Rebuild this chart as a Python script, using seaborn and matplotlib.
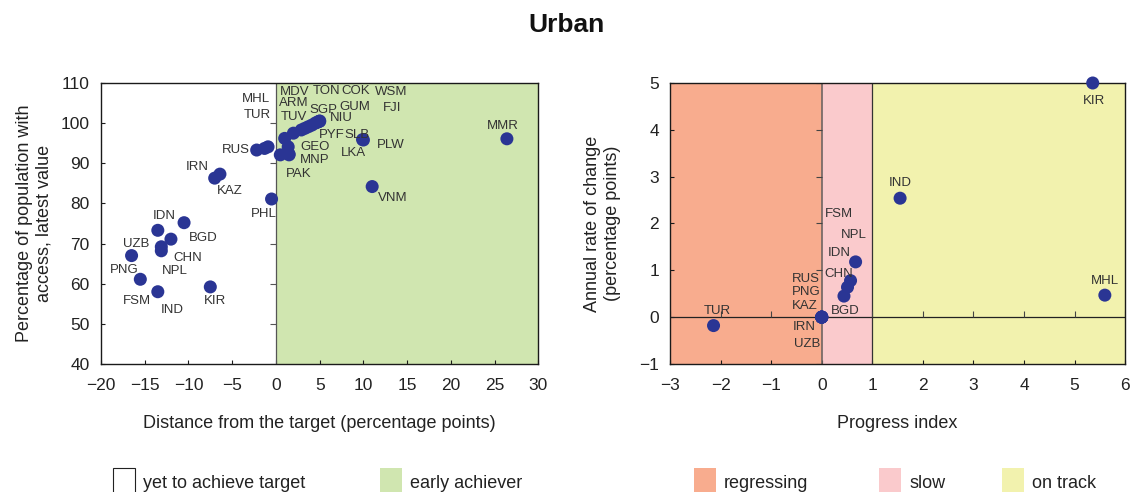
import numpy as np
import pandas as pd
import matplotlib
matplotlib.use("Agg")
import matplotlib.pyplot as plt
from matplotlib import markers
from matplotlib.patches import Rectangle
import seaborn as sns

# ---- data: distance from target vs. latest access (urban) ----
left_codes = ["MHL", "TUR", "RUS", "PAK", "MNP", "GEO", "LKA", "TUV", "ARM", "MDV",
              "PYF", "SGP", "GUM", "TON", "COK", "FJI", "WSM", "NIU", "SLB", "PLW",
              "MMR", "VNM", "PHL", "IRN", "KAZ", "IDN", "BGD", "CHN", "NPL", "UZB",
              "PNG", "IND", "FSM", "KIR"]
left_distance = [-0.9, -1.3, -2.2, 0.5, 1.5, 1.4, 1.5, 1.0, 2.0, 2.9,
                 3.3, 3.7, 4.1, 4.5, 4.7, 4.9, 5.0, 5.0, 9.9, 10.0,
                 26.4, 11.0, -0.5, -6.4, -7.0, -13.5, -12.0, -13.1, -13.1, -16.5,
                 -15.5, -13.5, -10.5, -7.5]
left_access = [94.1, 93.7, 93.3, 92.1, 92.1, 94.1, 92.3, 96.2, 97.5, 98.3,
               98.7, 99.1, 99.5, 100.0, 100.2, 100.4, 100.5, 100.5, 95.9, 95.8,
               96.1, 84.2, 81.1, 87.3, 86.3, 73.3, 71.1, 69.2, 68.2, 67.0,
               61.1, 58.0, 75.2, 59.2]

# ---- data: progress index vs. annual rate of change (urban) ----
right_codes = ["KIR", "IND", "MHL", "TUR", "IDN", "CHN", "NPL", "FSM",
               "RUS", "PNG", "KAZ", "BGD", "IRN", "UZB"]
right_progress = [5.36, 1.55, 5.60, -2.14, 0.67, 0.57, 0.51, 0.44,
                  0.0, 0.0, 0.0, 0.0, 0.0, 0.0]
right_change = [5.0, 2.54, 0.47, -0.18, 1.18, 0.78, 0.64, 0.45,
                0.0, 0.0, 0.0, 0.0, 0.0, 0.0]

left_xticks = [-20, -15, -10, -5, 0, 5, 10, 15, 20, 25, 30]
left_yticks = [40, 50, 60, 70, 80, 90, 100, 110]
right_xticks = [-3, -2, -1, 0, 1, 2, 3, 4, 5, 6]
right_yticks = [-1, 0, 1, 2, 3, 4, 5]

# label placement around each dot, in pixels (dx, dy)
left_offsets = {
    "MHL": (-12, 48), "TUR": (-7, 33), "RUS": (-21, 0), "PAK": (18, -19),
    "MNP": (26, -5), "GEO": (27, 0), "LKA": (64, 1), "TUV": (9, 21),
    "ARM": (0, 30), "MDV": (-7, 38), "PYF": (27, -7), "SGP": (15, 17),
    "GUM": (43, 18), "TON": (11, 32), "COK": (39, 31), "FJI": (73, 14),
    "WSM": (72, 29), "NIU": (22, 3), "SLB": (-6, 5), "PLW": (27, -5),
    "MMR": (-4, 13), "VNM": (21, -11), "PHL": (-8, -15), "IRN": (-23, 7),
    "KAZ": (15, -13), "IDN": (6, 14), "BGD": (32, 1), "CHN": (26, -11),
    "NPL": (13, -20), "UZB": (5, 12), "PNG": (-16, 9), "IND": (14, -18),
    "FSM": (-47, -78), "KIR": (5, -14),
}
right_offsets = {
    "KIR": (1, -18), "IND": (0, 15), "MHL": (0, 14), "TUR": (4, 15),
    "IDN": (-16, 9), "CHN": (-12, 7), "NPL": (6, 52), "FSM": (-5, 82),
    "RUS": (-16, 38), "PNG": (-15, 25), "KAZ": (-17, 11), "BGD": (24, 6),
    "IRN": (-17, -10), "UZB": (-15, -27),
}

DOT = "#2A3594"
GREEN = "#D0E6B0"
REGRESS = "#F8AC8E"
SLOW = "#FACACC"
ONTRACK = "#F2F2AE"
TXT = "#222222"

sns.set_style("ticks")
plt.rcParams["font.family"] = ["Liberation Sans", "DejaVu Sans"]
plt.rcParams["axes.unicode_minus"] = True

fig = plt.figure(figsize=(11.33, 4.92), dpi=100)
axL = fig.add_axes([0.0891, 0.2602, 0.3861, 0.5711])
axR = fig.add_axes([0.5914, 0.2602, 0.4016, 0.5711])

left_df = pd.DataFrame({"code": left_codes, "dist": left_distance, "acc": left_access})
right_df = pd.DataFrame({"code": right_codes, "prog": right_progress, "chg": right_change})


def style_axes(ax):
    for s in ax.spines.values():
        s.set_color("#1a1a1a")
        s.set_linewidth(1.0)
        s.set_visible(True)
    ax.tick_params(direction="in", length=3, width=0.8, colors="#1a1a1a",
                   labelsize=12.5, labelcolor=TXT, pad=8,
                   top=False, right=False)
    ax.tick_params(axis="x", pad=10)


# ---------------- left panel ----------------
axL.set_xlim(left_xticks[0], left_xticks[-1])
axL.set_ylim(left_yticks[0], left_yticks[-1])
axL.axvspan(0, left_xticks[-1], color=GREEN, zorder=0, lw=0)
axL.axvline(0, color="#555555", lw=0.9, zorder=1)
axL.plot(np.zeros(len(left_yticks)), left_yticks, ls="none",
         marker=markers.TICKLEFT, ms=4, mew=0.8, color="#555555", zorder=1)
sns.scatterplot(data=left_df, x="dist", y="acc", ax=axL, color=DOT, s=88,
                edgecolor="none", zorder=3, legend=False)
for c, x, y in zip(left_codes, left_distance, left_access):
    dx, dy = left_offsets[c]
    axL.annotate(c, (x, y), xytext=(dx, dy), textcoords="offset pixels",
                 ha="center", va="center", fontsize=9.5, color="#333333", zorder=4)
axL.set_xticks(left_xticks)
axL.set_yticks(left_yticks)
style_axes(axL)
axL.set_xlabel("Distance from the target (percentage points)", fontsize=13,
               color=TXT, labelpad=16)
axL.set_ylabel("Percentage of population with\naccess, latest value", fontsize=13,
               color=TXT, labelpad=6, linespacing=1.2)

# ---------------- right panel ----------------
axR.set_xlim(right_xticks[0], right_xticks[-1])
axR.set_ylim(right_yticks[0], right_yticks[-1])
axR.axvspan(right_xticks[0], 0, color=REGRESS, zorder=0, lw=0)
axR.axvspan(0, 1, color=SLOW, zorder=0, lw=0)
axR.axvspan(1, right_xticks[-1], color=ONTRACK, zorder=0, lw=0)
axR.axvline(1, color="#333333", lw=0.9, zorder=1)
axR.axvline(0, color="#6e6462", lw=1.2, zorder=1)
axR.axhline(0, color="#222222", lw=0.9, zorder=1)
axR.plot(np.zeros(len(right_yticks)), right_yticks, ls="none",
         marker=markers.TICKLEFT, ms=4, mew=0.8, color="#444444", zorder=1)
axR.plot(right_xticks, np.zeros(len(right_xticks)), ls="none",
         marker=markers.TICKUP, ms=4, mew=0.8, color="#444444", zorder=1)
sns.scatterplot(data=right_df, x="prog", y="chg", ax=axR, color=DOT, s=88,
                edgecolor="none", zorder=3, legend=False, clip_on=False)
for c, x, y in zip(right_codes, right_progress, right_change):
    dx, dy = right_offsets[c]
    axR.annotate(c, (x, y), xytext=(dx, dy), textcoords="offset pixels",
                 ha="center", va="center", fontsize=9.5, color="#333333", zorder=4)
axR.set_xticks(right_xticks)
axR.set_yticks(right_yticks)
style_axes(axR)
axR.set_xlabel("Progress index", fontsize=13, color=TXT, labelpad=16)
axR.set_ylabel("Annual rate of change\n(percentage points)", fontsize=13,
               color=TXT, labelpad=13, linespacing=1.2)

# ---------------- title ----------------
fig.text(0.5, 0.949, "Urban", ha="center", va="center", fontsize=19,
         fontweight="bold", color="#111111")

# ---------------- legend keys along the bottom ----------------
legend_items = [
    ("yet to achieve target", "white", "#222222", 113),
    ("early achiever", GREEN, "none", 380),
    ("regressing", REGRESS, "none", 694),
    ("slow", SLOW, "none", 879),
    ("on track", ONTRACK, "none", 1002),
]
W, H = 1133, 492
for label, face, edge, x0 in legend_items:
    fig.patches.append(Rectangle((x0 / W, -0.02), 22 / W, (H - 468) / H + 0.02,
                                 transform=fig.transFigure, facecolor=face,
                                 edgecolor=edge, lw=0.8))
    fig.text((x0 + 30) / W, 1 - 483 / H, label, ha="left", va="center",
             fontsize=13, color=TXT, family=["Liberation Sans", "DejaVu Sans"])

fig.savefig("out.png", dpi=100)
